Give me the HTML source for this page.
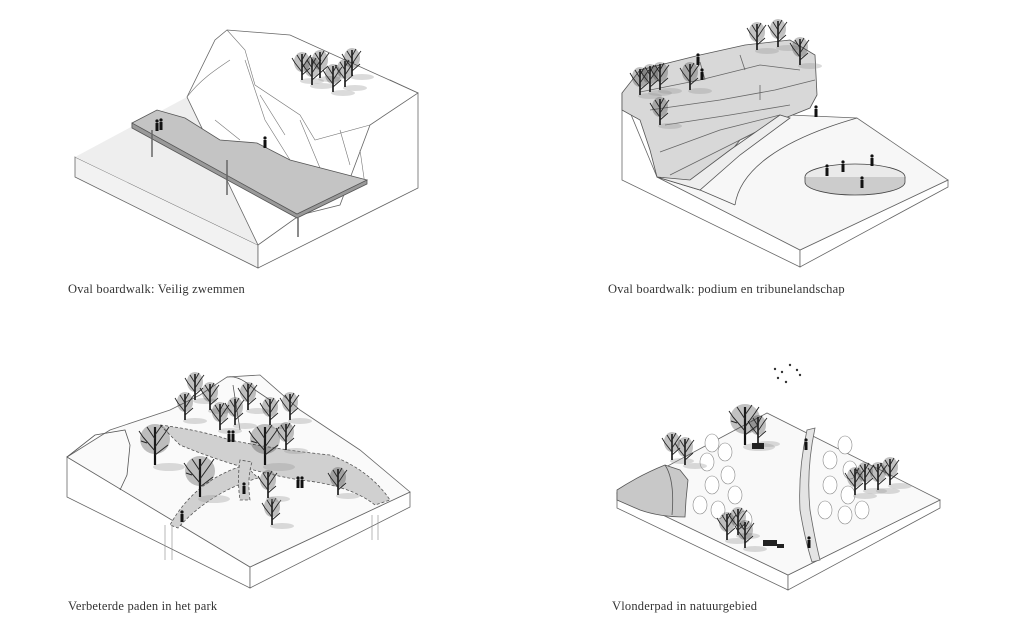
<!DOCTYPE html>
<html><head><meta charset="utf-8"><style>
html,body{margin:0;padding:0;background:#fff;}
body{width:1024px;height:635px;position:relative;overflow:hidden;font-family:"Liberation Serif",serif;}
.cap{position:absolute;font-size:12.5px;color:#333;letter-spacing:0.2px;}
svg{position:absolute;left:0;top:0;}
</style></head><body>
<svg width="1024" height="635" viewBox="0 0 1024 635" fill="none" stroke="#555" stroke-width="0.8">
<defs>
<g id="tree"><ellipse cx="10" cy="1" rx="12" ry="3" fill="#999" fill-opacity="0.35" stroke="none"/><line x1="0" y1="0" x2="0" y2="-26" stroke="#111" stroke-width="1.6"/><path d="M0-8l-7-9M0-12l6-9M0-17l-5-8M0-20l4-7M-7-17l-3-5M6-21l3-4M0-5l8-7" stroke="#222" stroke-width="0.9"/><ellipse cx="0" cy="-18" rx="8" ry="10" fill="#333" fill-opacity="0.3" stroke="none"/></g>
<g id="bt"><ellipse cx="14" cy="2" rx="16" ry="4" fill="#999" fill-opacity="0.35" stroke="none"/><line x1="0" y1="0" x2="0" y2="-38" stroke="#111" stroke-width="2.2"/><path d="M0-14l-12-14M0-18l10-14M0-26l-8-12M0-30l7-10M-12-28l-4-6M10-32l4-6M0-10l13-10M-8-22l-6-2" stroke="#222" stroke-width="1"/><ellipse cx="0" cy="-26" rx="15" ry="15" fill="#333" fill-opacity="0.3" stroke="none"/></g>
<g id="p"><rect x="-1.5" y="-8" width="3" height="8" fill="#111" stroke="none"/><circle cx="0" cy="-10" r="1.6" fill="#111" stroke="none"/></g>
</defs>

<!-- TL block -->
<polygon points="75,157 75,177 258,268 258,245" fill="#f2f2f2" stroke="#666"/>
<polygon points="258,245 258,268 418,188 418,93 390,80" fill="#fff" stroke="#666"/>
<polygon points="75,157 187,97 258,245" fill="#eee" stroke="none"/>
<polygon points="187,97 215,40 227,30 290,35 418,93 370,125 340,205 300,215 258,245" fill="#fff" stroke="#666"/>
<path d="M227,30 L245,50 255,85 300,115 315,140 370,125 M187,97 C200,80 215,70 230,60 M245,60 L265,120 290,160 M260,95 L285,135 M300,120 L325,180 345,195 M340,130 L350,165 M215,120 L240,140 M360,150 L365,185" stroke="#777" stroke-width="0.6"/>
<polygon points="132,123 157,110 185,118 220,140 257,143 290,160 367,180 340,195 297,215 132,127" fill="#c4c4c4" stroke="#555"/>
<polygon points="132,123 132,128 297,218 367,184 367,180 297,214" fill="#999" stroke="#555"/>
<path d="M152,130 V157 M227,160 V195 M298,218 V237" stroke="#666" stroke-width="1.5"/>
<g transform="translate(302,80)"><use href="#tree"/></g>
<g transform="translate(312,85)"><use href="#tree"/></g>
<g transform="translate(320,78)"><use href="#tree"/></g>
<g transform="translate(333,92)"><use href="#tree"/></g>
<g transform="translate(345,87)"><use href="#tree"/></g>
<g transform="translate(352,76)"><use href="#tree"/></g>
<g transform="translate(157,131)"><use href="#p"/></g>
<g transform="translate(161,130)"><use href="#p"/></g>
<g transform="translate(265,148)"><use href="#p"/></g>

<!-- TR block -->
<polygon points="622,93 622,180 800,267 800,250 657,177" fill="#fff" stroke="#666"/>
<polygon points="800,250 800,267 948,187 948,180" fill="#fff" stroke="#666"/>
<polygon points="657,177 700,185 740,140 790,115 857,118 948,180 800,250" fill="#f7f7f7" stroke="#666"/>
<polygon points="622,93 640,70 700,55 745,45 790,40 815,55 817,95 810,108 780,120 740,140 700,190 657,177 650,150 640,120 622,110" fill="#d8d8d8" stroke="#555"/>
<path d="M640,92 L700,80 760,65 800,70 M650,110 L720,100 775,90 815,80 M665,125 L730,115 790,105 M660,152 L720,130 780,115 M670,175 L720,150 760,130 M700,62 L705,80 M740,55 L745,70 M760,85 L760,100" stroke="#666"/>
<polygon points="657,177 690,180 730,150 780,115 790,118 740,155 700,190" fill="#eee" stroke="#555"/>
<path d="M700,190 L735,205 M735,205 C740,170 780,140 857,118" stroke="#555"/>
<ellipse cx="855" cy="177" rx="50" ry="13" fill="#eaeaea" stroke="#444"/>
<path d="M805,177 v5 a50,13 0 0 0 100,0 v-5" fill="#ccc" stroke="#444"/>
<g transform="translate(843,172)"><use href="#p"/></g>
<g transform="translate(872,166)"><use href="#p"/></g>
<g transform="translate(862,188)"><use href="#p"/></g>
<g transform="translate(827,176)"><use href="#p"/></g>
<g transform="translate(816,117)"><use href="#p"/></g>
<g transform="translate(640,95)"><use href="#tree"/></g>
<g transform="translate(650,92)"><use href="#tree"/></g>
<g transform="translate(660,90)"><use href="#tree"/></g>
<g transform="translate(660,125)"><use href="#tree"/></g>
<g transform="translate(690,90)"><use href="#tree"/></g>
<g transform="translate(757,50)"><use href="#tree"/></g>
<g transform="translate(778,47)"><use href="#tree"/></g>
<g transform="translate(800,65)"><use href="#tree"/></g>
<g transform="translate(698,65)"><use href="#p"/></g>
<g transform="translate(702,80)"><use href="#p"/></g>

<!-- BL block -->
<polygon points="67,457 67,497 250,588 250,567" fill="#fff" stroke="#666"/>
<polygon points="250,567 250,588 410,507 410,492" fill="#fff" stroke="#666"/>
<polygon points="67,457 110,430 170,410 200,395 227,377 260,375 300,410 360,450 410,492 250,567" fill="#fafafa" stroke="#666"/>
<path d="M67,457 L95,435 125,430 130,445 127,475 120,490" stroke="#555"/>
<path d="M227,377 Q240,375 255,390 L270,400 M233,385 L240,430" stroke="#555"/>
<path d="M160,425 Q200,430 230,440 Q280,450 330,455 Q370,470 390,500 L375,505 Q350,485 300,480 Q240,470 180,445 Z" fill="#d0d0d0" stroke="#555" stroke-dasharray="3 2"/>
<path d="M245,465 Q195,480 170,525 L178,528 Q210,492 258,478 Z" fill="#d0d0d0" stroke="#555" stroke-dasharray="3 2"/>
<path d="M240,460 Q237,480 240,500 L250,500 Q247,478 252,462Z" fill="#d0d0d0" stroke="#555" stroke-dasharray="3 2"/>
<g transform="translate(155,465)"><use href="#bt"/></g>
<g transform="translate(200,497)"><use href="#bt"/></g>
<g transform="translate(185,420)"><use href="#tree"/></g>
<g transform="translate(195,400)"><use href="#tree"/></g>
<g transform="translate(210,410)"><use href="#tree"/></g>
<g transform="translate(220,430)"><use href="#tree"/></g>
<g transform="translate(235,425)"><use href="#tree"/></g>
<g transform="translate(248,410)"><use href="#tree"/></g>
<g transform="translate(270,425)"><use href="#tree"/></g>
<g transform="translate(290,420)"><use href="#tree"/></g>
<g transform="translate(265,465)"><use href="#bt"/></g>
<g transform="translate(286,450)"><use href="#tree"/></g>
<g transform="translate(272,525)"><use href="#tree"/></g>
<g transform="translate(268,498)"><use href="#tree"/></g>
<g transform="translate(338,495)"><use href="#tree"/></g>
<g transform="translate(182,522)"><use href="#p"/></g>
<g transform="translate(244,494)"><use href="#p"/></g>
<g transform="translate(298,488)"><use href="#p"/></g>
<g transform="translate(302,488)"><use href="#p"/></g>
<g transform="translate(229,442)"><use href="#p"/></g>
<g transform="translate(233,442)"><use href="#p"/></g>
<path d="M165,525 V560 M172,525 V560 M372,515 V540 M378,515 V540" stroke="#888" stroke-width="0.6"/>

<!-- BR block -->
<polygon points="617,493 617,508 788,590 788,575" fill="#fff" stroke="#666"/>
<polygon points="788,575 788,590 940,508 940,500" fill="#fff" stroke="#666"/>
<polygon points="617,493 767,413 940,500 788,575" fill="#f9f9f9" stroke="#666"/>
<path d="M617,490 Q640,475 665,465 L680,470 688,480 686,500 685,517 Q660,517 640,510 L617,500Z" fill="#c8c8c8" stroke="#555"/>
<path d="M665,465 Q675,480 672,515" stroke="#555"/>
<path d="M807,430 L815,428 Q806,470 810,510 Q815,540 820,560 L812,562 Q805,540 800,510 Q798,470 807,430Z" fill="#e4e4e4" stroke="#666"/>
<g fill="#fff" stroke="#888" stroke-width="0.6">
<ellipse cx="712" cy="443" rx="7" ry="9"/><ellipse cx="725" cy="452" rx="7" ry="9"/><ellipse cx="707" cy="462" rx="7" ry="9"/><ellipse cx="728" cy="475" rx="7" ry="9"/><ellipse cx="712" cy="485" rx="7" ry="9"/><ellipse cx="700" cy="505" rx="7" ry="9"/><ellipse cx="718" cy="510" rx="7" ry="9"/><ellipse cx="735" cy="495" rx="7" ry="9"/><ellipse cx="745" cy="520" rx="7" ry="9"/>
<ellipse cx="845" cy="445" rx="7" ry="9"/><ellipse cx="830" cy="460" rx="7" ry="9"/><ellipse cx="850" cy="470" rx="7" ry="9"/><ellipse cx="830" cy="485" rx="7" ry="9"/><ellipse cx="848" cy="495" rx="7" ry="9"/><ellipse cx="825" cy="510" rx="7" ry="9"/><ellipse cx="845" cy="515" rx="7" ry="9"/><ellipse cx="862" cy="510" rx="7" ry="9"/>
</g>
<g transform="translate(745,445)"><use href="#bt"/></g>
<g transform="translate(758,443)"><use href="#tree"/></g>
<g transform="translate(672,460)"><use href="#tree"/></g>
<g transform="translate(685,465)"><use href="#tree"/></g>
<g transform="translate(727,540)"><use href="#tree"/></g>
<g transform="translate(738,535)"><use href="#tree"/></g>
<g transform="translate(745,548)"><use href="#tree"/></g>
<g transform="translate(855,495)"><use href="#tree"/></g>
<g transform="translate(865,490)"><use href="#tree"/></g>
<g transform="translate(878,490)"><use href="#tree"/></g>
<g transform="translate(890,485)"><use href="#tree"/></g>
<rect x="763" y="540" width="14" height="6" fill="#222" stroke="none"/>
<rect x="777" y="544" width="7" height="4" fill="#222" stroke="none"/>
<rect x="752" y="443" width="12" height="6" fill="#222" stroke="none"/>
<g transform="translate(806,450)"><use href="#p"/></g>
<g transform="translate(809,548)"><use href="#p"/></g>
<g fill="#333" stroke="none"><circle cx="775" cy="369" r="1.2"/><circle cx="782" cy="372" r="1.2"/><circle cx="790" cy="365" r="1.2"/><circle cx="797" cy="370" r="1.2"/><circle cx="778" cy="378" r="1.2"/><circle cx="786" cy="382" r="1.2"/><circle cx="800" cy="375" r="1.2"/></g>
</svg>
<div class="cap" style="left:68px;top:282px">Oval boardwalk: Veilig zwemmen</div>
<div class="cap" style="left:608px;top:282px">Oval boardwalk: podium en tribunelandschap</div>
<div class="cap" style="left:68px;top:599px">Verbeterde paden in het park</div>
<div class="cap" style="left:612px;top:599px">Vlonderpad in natuurgebied</div>
</body></html>
